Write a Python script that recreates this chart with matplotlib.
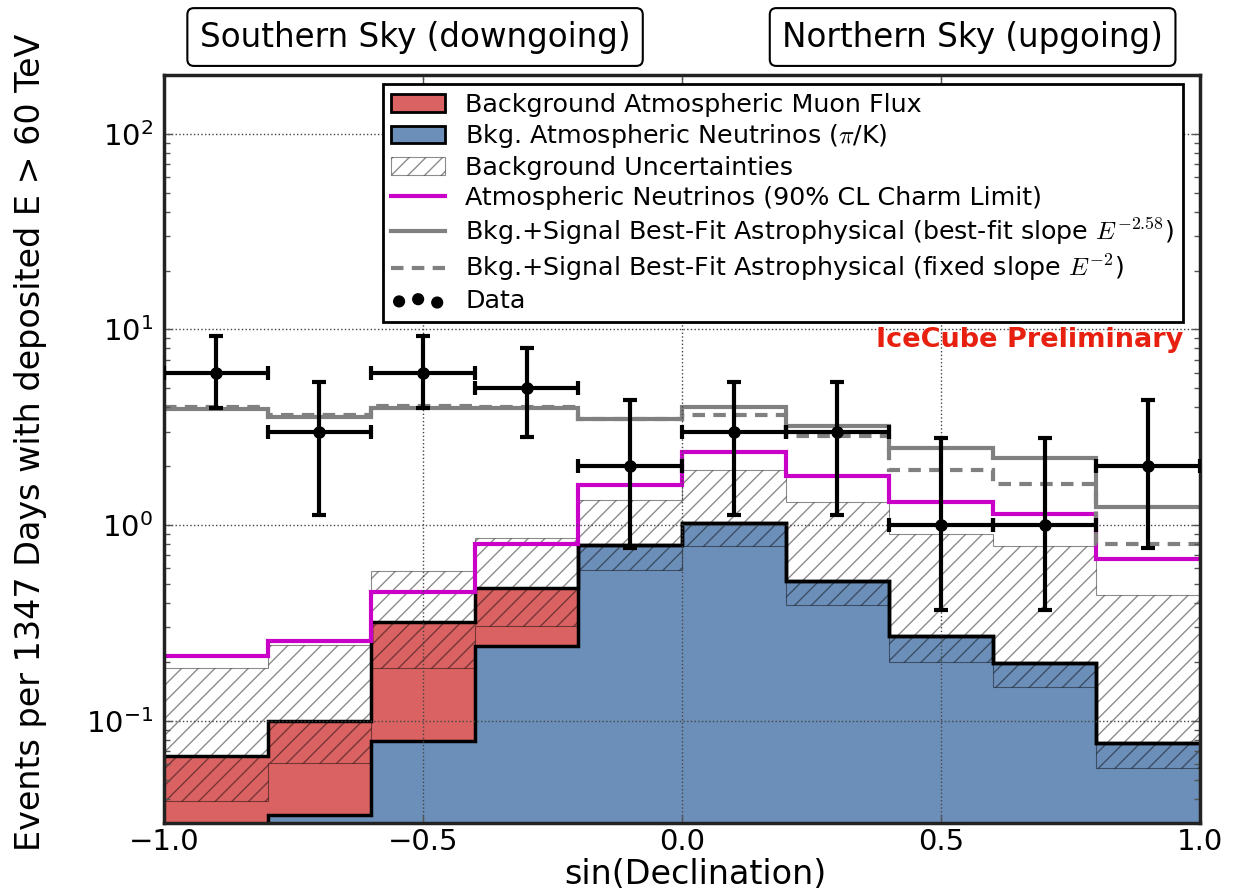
import matplotlib
matplotlib.use("Agg")
import matplotlib.pyplot as plt
from matplotlib.patches import Patch
from matplotlib.lines import Line2D
from matplotlib.font_manager import FontProperties

# ---- data ------------------------------------------------------------------
edges = [-1.0, -0.8, -0.6, -0.4, -0.2, 0.0, 0.2, 0.4, 0.6, 0.8, 1.0]
centers = [-0.9, -0.7, -0.5, -0.3, -0.1, 0.1, 0.3, 0.5, 0.7, 0.9]

nu_pik = [0.02, 0.033, 0.079, 0.241, 0.79, 1.03, 0.52, 0.27, 0.198, 0.077]
muon = [0.046, 0.067, 0.241, 0.236, 0.004, 0.0, 0.0, 0.0, 0.0, 0.0]
unc_low = [0.039, 0.061, 0.186, 0.305, 0.59, 0.78, 0.39, 0.20, 0.149, 0.0575]
unc_high = [0.186, 0.244, 0.58, 0.86, 1.34, 1.91, 1.32, 0.90, 0.78, 0.44]
charm = [0.215, 0.256, 0.455, 0.80, 1.6, 2.36, 1.78, 1.31, 1.14, 0.67]
fit_258 = [3.9, 3.55, 3.95, 3.95, 3.5, 4.0, 3.2, 2.47, 2.2, 1.24]
fit_2 = [4.0, 3.65, 4.05, 4.0, 3.5, 3.65, 2.85, 1.91, 1.62, 0.80]

counts = [6, 3, 6, 5, 2, 3, 3, 1, 1, 2]
err_lo = [3.95, 1.12, 3.95, 2.81, 0.76, 1.12, 1.12, 0.37, 0.37, 0.76]
err_hi = [9.3, 5.4, 9.3, 8.0, 4.34, 5.4, 5.4, 2.8, 2.8, 4.34]

total = [n + m for n, m in zip(nu_pik, muon)]

RED = "#da6262"
BLUE = "#6c8fb9"
HATCH = (0, 0, 0, 0.45)

plt.rcParams["mathtext.fontset"] = "dejavusans"

fig = plt.figure(figsize=(12.39, 8.92), dpi=100)
ax = fig.add_axes([0.1324, 0.0774, 0.8361, 0.8385])

# ---- stacked background ----------------------------------------------------
ax.stairs(nu_pik, edges, baseline=1e-3, fill=True, facecolor=BLUE, lw=0)
ax.stairs(total, edges, baseline=nu_pik, fill=True, facecolor=RED, lw=0)
ax.stairs(unc_high, edges, baseline=unc_low, fill=True, facecolor="none",
          edgecolor=HATCH, hatch="//", lw=0.8)
ax.stairs(nu_pik, edges, baseline=None, color="k", lw=2.5)
ax.stairs(total, edges, baseline=None, color="k", lw=2.5)

# ---- model lines -----------------------------------------------------------
ax.stairs(charm, edges, baseline=None, color="#c800c8", lw=3)
ax.stairs(fit_258, edges, baseline=None, color="#808080", lw=3)
ax.stairs(fit_2, edges, baseline=None, color="#808080", lw=3,
          linestyle=(0, (3, 2)))

# ---- data ------------------------------------------------------------------
yerr = [[c - lo for c, lo in zip(counts, err_lo)],
        [hi - c for c, hi in zip(counts, err_hi)]]
ax.errorbar(centers, counts, xerr=0.1, yerr=yerr, fmt="o", color="k",
            ms=8, lw=3, capsize=5, capthick=3, zorder=10)

# ---- axes ------------------------------------------------------------------
ax.set_yscale("log")
ax.set_xlim(-1.0, 1.0)
ax.set_ylim(0.03, 200)
ax.set_xticks([-1.0, -0.5, 0.0, 0.5, 1.0])
ax.tick_params(which="both", direction="in", top=True, right=True,
               color="#555555")
ax.tick_params(which="major", length=6, width=1, labelsize=21)
ax.tick_params(axis="y", which="major", pad=8)
ax.tick_params(which="minor", length=4, width=1)
ax.grid(True, which="major", ls=":", color="#444444", lw=1)
for s in ax.spines.values():
    s.set_linewidth(2.5)
    s.set_color("#222222")

ax.set_xlabel("sin(Declination)", fontsize=24, va="top")
ax.xaxis.set_label_coords(0.5125, -0.047)
ax.set_ylabel("Events per 1347 Days with deposited E > 60 TeV",
              fontsize=24, va="center")
ax.yaxis.set_label_coords(-0.129, 0.509)

handles = [
    Patch(facecolor=RED, edgecolor="k", lw=2),
    Patch(facecolor=BLUE, edgecolor="k", lw=2),
    Patch(facecolor="none", edgecolor=HATCH, hatch="//", lw=0.8),
    Line2D([], [], color="#c800c8", lw=3),
    Line2D([], [], color="#808080", lw=3),
    Line2D([], [], color="#808080", lw=3, linestyle=(0, (3, 2))),
    ax.scatter([], [], color="k", s=60),
]
labels = [
    "Background Atmospheric Muon Flux",
    r"Bkg. Atmospheric Neutrinos ($\pi$/K)",
    "Background Uncertainties",
    "Atmospheric Neutrinos (90% CL Charm Limit)",
    r"Bkg.+Signal Best-Fit Astrophysical (best-fit slope $E^{-2.58}$)",
    r"Bkg.+Signal Best-Fit Astrophysical (fixed slope $E^{-2}$)",
    "Data",
]
leg = ax.legend(handles, labels, loc="upper right",
                bbox_to_anchor=(0.9836, 0.988),
                prop=FontProperties(size=18.3, math_fontfamily="cm"),
                fancybox=False, framealpha=1, edgecolor="k",
                handlelength=2.1, handletextpad=0.8, labelspacing=0.22,
                borderpad=0.35, scatterpoints=3, borderaxespad=0)
leg.get_frame().set_linewidth(2)

ax.text(0.9836, 0.6457, "IceCube Preliminary", transform=ax.transAxes,
        ha="right", va="center", color="#e82010", fontsize=19.5,
        fontweight="bold")

box = dict(boxstyle="round,pad=0.38,rounding_size=0.2", facecolor="white",
           edgecolor="k", lw=1.5)
fig.text(0.335, 0.9585, "Southern Sky (downgoing)", ha="center", va="center",
         fontsize=23.5, bbox=box)
fig.text(0.785, 0.9585, "Northern Sky (upgoing)", ha="center", va="center",
         fontsize=23.5, bbox=box)

fig.savefig("out.png", dpi=100)
